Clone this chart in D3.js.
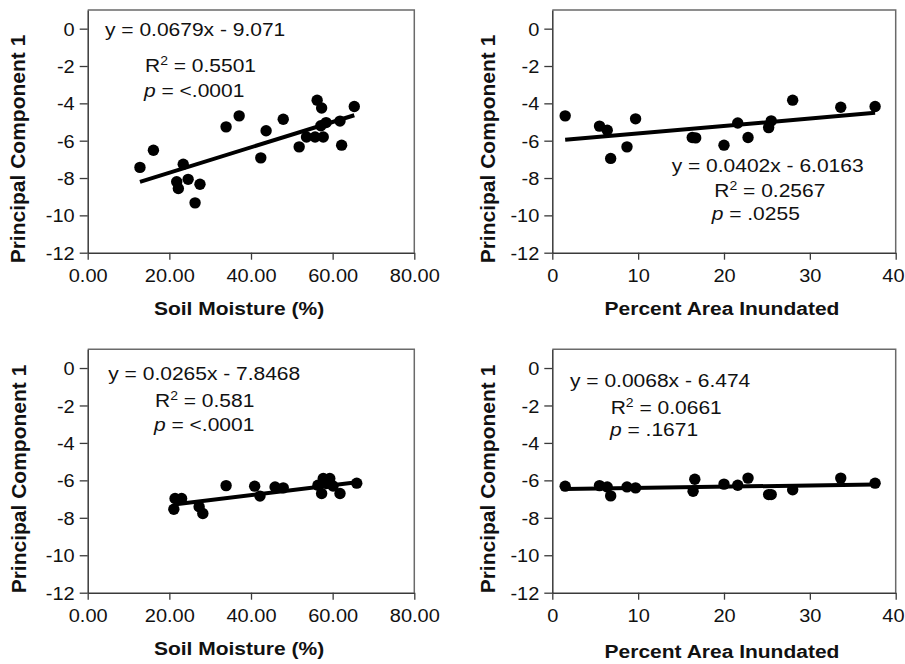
<!DOCTYPE html>
<html>
<head>
<meta charset="utf-8">
<script src="https://cdn.jsdelivr.net/npm/d3@7"></script>
<style>
  html, body { margin: 0; padding: 0; background: #fff; }
  svg { display: block; font-family: "Liberation Sans", Arial, Helvetica, sans-serif; }
</style>
</head>
<body>
<svg id="chart" width="905" height="664"></svg>
<script>
// ---------------- DATA ----------------
const yTicks = [0, -2, -4, -6, -8, -10, -12];
const soilTicks = [0, 20, 40, 60, 80];
const inundTicks = [0, 10, 20, 30, 40];

// Panel A: PC1 vs soil moisture (top-left)
const soilA_x = [12.8, 16.1, 21.8, 22.2, 23.4, 24.6, 26.3, 27.5, 33.9, 37.1, 42.4, 43.7, 47.9, 51.8, 53.6, 55.7, 56.2, 57.3, 57.1, 57.7, 58.4, 61.8, 62.2, 65.3];
const soilA_y = [-7.43, -6.51, -8.2, -8.56, -7.26, -8.07, -9.33, -8.33, -5.26, -4.67, -6.92, -5.47, -4.85, -6.33, -5.8, -5.8, -3.83, -4.25, -5.2, -5.8, -5.03, -4.95, -6.24, -4.17];

// Panel B: PC1 vs percent area inundated (top-right)
const inundB_x = [1.5, 5.5, 6.4, 6.8, 8.7, 9.7, 16.3, 16.7, 20.0, 21.6, 22.8, 25.2, 25.5, 28.0, 33.6, 37.6];
const inundB_y = [-4.67, -5.22, -5.44, -6.95, -6.33, -4.83, -5.83, -5.85, -6.24, -5.05, -5.83, -5.3, -4.94, -3.83, -4.21, -4.17];

// Panel C: PC1 vs soil moisture (bottom-left)
const soilC_x = [21.4, 23.0, 21.1, 27.3, 28.2, 33.9, 40.9, 42.2, 45.9, 47.9, 56.4, 57.7, 59.3, 58.5, 57.3, 60.1, 61.8, 65.9];
const soilC_y = [-6.97, -6.97, -7.54, -7.41, -7.77, -6.28, -6.31, -6.84, -6.35, -6.4, -6.26, -5.9, -5.9, -6.17, -6.7, -6.3, -6.7, -6.15];

// Panel D: PC1 vs percent area inundated (bottom-right)
const inundD_x = [1.5, 5.5, 6.4, 6.8, 8.7, 9.7, 16.4, 16.6, 20.0, 21.6, 22.8, 25.2, 25.5, 28.0, 33.6, 37.6];
const inundD_y = [-6.31, -6.28, -6.35, -6.83, -6.35, -6.4, -6.58, -5.94, -6.2, -6.26, -5.88, -6.76, -6.76, -6.5, -5.88, -6.15];

// Regression fits and annotation texts
const slopes = [0.0679, 0.0402, 0.0265, 0.0068];
const intercepts = [-9.071, -6.0163, -7.8468, -6.474];
const eqTexts = ["y = 0.0679x - 9.071", "y = 0.0402x - 6.0163", "y = 0.0265x - 7.8468", "y = 0.0068x - 6.474"];
const r2Texts = ["0.5501", "0.2567", "0.581", "0.0661"];
const pTexts = ["<.0001", ".0255", "<.0001", ".1671"];
const xTitles = ["Soil Moisture (%)", "Percent Area Inundated", "Soil Moisture (%)", "Percent Area Inundated"];
const yTitle = "Principal Component 1";

// ---------------- LAYOUT ----------------
const panels = [
  { xs: soilA_x, ys: soilA_y, ticks: soilTicks, xmax: 80, fmt: d => d.toFixed(2),
    L: 87.7, R: 414.3, T: 10, B: 252.7,
    eq: [105, 36], r2: [145, 71.7], p: [144, 96.7], xt: [239, 315], yt: [25, 149], tickBase: 281.7 },
  { xs: inundB_x, ys: inundB_y, ticks: inundTicks, xmax: 40, fmt: d => String(d),
    L: 552.3, R: 895.7, T: 10, B: 252.7,
    eq: [671.7, 171.7], r2: [714.3, 196.7], p: [711.7, 220], xt: [722, 315], yt: [495, 149], tickBase: 281.7 },
  { xs: soilC_x, ys: soilC_y, ticks: soilTicks, xmax: 80, fmt: d => d.toFixed(2),
    L: 87.7, R: 414.3, T: 349.3, B: 592.7,
    eq: [108.3, 380], r2: [155, 407.3], p: [154, 431], xt: [239, 655], yt: [26, 479], tickBase: 621.7 },
  { xs: inundD_x, ys: inundD_y, ticks: inundTicks, xmax: 40, fmt: d => String(d),
    L: 552.3, R: 895.7, T: 349.3, B: 592.7,
    eq: [570, 387.3], r2: [610.7, 414], p: [610, 436], xt: [722, 658], yt: [495, 479], tickBase: 621.7 }
];

const svg = d3.select("#chart");
const SY = 0.88;            // vertical squash of horizontal text seen in the reference
const axisColor = "#3a3a3a";
const textColor = "#111";

function htext(g, x, y, size, weight, anchor) {
  return g.append("text")
    .attr("transform", `translate(${x},${y}) scale(1,${SY})`)
    .attr("font-size", size)
    .attr("font-weight", weight || "normal")
    .attr("text-anchor", anchor || "start")
    .attr("fill", textColor);
}

panels.forEach((P, i) => {
  const g = svg.append("g");
  const x = d3.scaleLinear().domain([0, P.xmax]).range([P.L, P.R]);
  const y = d3.scaleLinear().domain([-12, 1]).range([P.B, P.T]);

  // frame top & right
  g.append("path")
    .attr("d", `M${P.L},${P.T}H${P.R}V${P.B}`)
    .attr("fill", "none").attr("stroke", "#6a6a6a").attr("stroke-width", 1.5);

  // y axis
  const ya = g.append("g").attr("transform", `translate(${P.L},0)`)
    .call(d3.axisLeft(y).tickValues(yTicks).tickFormat(d => String(d)).tickSize(8).tickSizeOuter(0).tickPadding(5));
  ya.select(".domain").attr("stroke", axisColor).attr("stroke-width", 1.5);
  ya.selectAll(".tick line").attr("stroke", axisColor).attr("stroke-width", 1.3);
  ya.selectAll(".tick text")
    .attr("font-size", 20).attr("font-family", null).attr("fill", textColor)
    .attr("dy", null).attr("y", 0)
    .attr("transform", `translate(0,${6.6}) scale(1,${SY})`)
    .attr("x", -13);

  // x axis
  const xa = g.append("g").attr("transform", `translate(0,${P.B})`)
    .call(d3.axisBottom(x).tickValues(P.ticks).tickFormat(P.fmt).tickSize(7).tickSizeOuter(0));
  xa.select(".domain").attr("stroke", axisColor).attr("stroke-width", 1.5);
  xa.selectAll(".tick line").attr("stroke", axisColor).attr("stroke-width", 1.3);
  xa.selectAll(".tick text")
    .attr("font-size", 20).attr("font-family", null).attr("fill", textColor)
    .attr("dy", null).attr("y", 0)
    .attr("transform", `translate(0,${P.tickBase - P.B}) scale(1,${SY})`);
  // keep the last label of the right-hand panels inside the page
  xa.selectAll(".tick text").filter(function(d) { return x(d) + 12 > 905; })
    .attr("text-anchor", "end").attr("x", 904 - x(P.xmax));

  // regression line
  const [x0, x1] = d3.extent(P.xs);
  g.append("line")
    .attr("x1", x(x0)).attr("y1", y(slopes[i] * x0 + intercepts[i]))
    .attr("x2", x(x1)).attr("y2", y(slopes[i] * x1 + intercepts[i]))
    .attr("stroke", "#000").attr("stroke-width", 4).attr("stroke-linecap", "butt");

  // points
  g.selectAll("circle.pt").data(P.xs.map((v, k) => [v, P.ys[k]]))
    .join("circle").attr("class", "pt")
    .attr("cx", d => x(d[0])).attr("cy", d => y(d[1]))
    .attr("r", 5.7).attr("fill", "#000");

  // annotations
  htext(g, P.eq[0], P.eq[1], 21).text(eqTexts[i]);
  const r2 = htext(g, P.r2[0], P.r2[1], 21);
  r2.append("tspan").text("R");
  r2.append("tspan").attr("font-size", 14).attr("dy", -8).text("2");
  r2.append("tspan").attr("dy", 8).text(" = " + r2Texts[i]);
  const pt = htext(g, P.p[0], P.p[1], 21);
  pt.append("tspan").attr("font-style", "italic").text("p");
  pt.append("tspan").text(" = " + pTexts[i]);

  // axis titles
  htext(g, P.xt[0], P.xt[1], 21, "bold", "middle").text(xTitles[i]);
  g.append("text")
    .attr("transform", `translate(${P.yt[0]},${P.yt[1]}) rotate(-90)`)
    .attr("font-size", 21).attr("font-weight", "bold").attr("text-anchor", "middle")
    .attr("fill", textColor).text(yTitle);
});
</script>
</body>
</html>
